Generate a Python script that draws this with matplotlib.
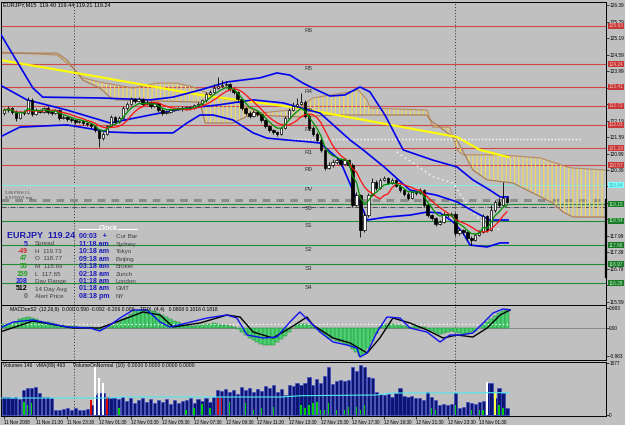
import matplotlib
matplotlib.use('Agg')
import matplotlib.pyplot as plt
import matplotlib.transforms as mtransforms
from matplotlib.lines import Line2D
import numpy as np
import pandas as pd

# ---------------- data ----------------
opens = [122.46,122.57,122.64,122.50,122.28,122.50,122.46,122.93,122.42,122.57,
122.50,122.64,122.50,122.46,122.57,122.28,122.32,122.24,122.21,122.13,
122.17,122.10,122.06,121.99,121.84,121.55,121.70,121.99,122.32,122.13,
122.28,122.64,122.79,122.97,122.90,122.97,122.79,122.86,122.72,122.82,
122.57,122.46,122.50,122.57,122.61,122.64,122.61,122.68,122.64,122.75,
122.79,122.93,123.15,123.22,123.37,123.44,123.48,123.52,123.33,123.22,
122.97,122.64,122.46,122.35,122.50,122.42,122.21,121.99,121.84,121.77,
121.70,121.92,122.28,122.57,122.72,122.79,122.86,122.35,121.92,121.70,
121.48,121.12,120.45,120.57,120.68,120.75,120.61,120.75,120.57,119.12,
119.48,118.21,118.75,119.48,119.95,119.73,120.03,120.10,119.92,120.03,
119.81,119.66,119.52,119.37,119.59,119.55,119.66,119.12,118.75,118.64,
118.42,118.50,118.79,118.75,118.79,118.10,118.21,118.14,117.92,117.84,
118.03,118.14,118.72,118.21,118.93,119.22,119.12,119.37]
closes = [122.57,122.64,122.50,122.28,122.50,122.46,122.93,122.42,122.57,122.50,
122.64,122.50,122.46,122.57,122.28,122.32,122.24,122.21,122.13,122.17,
122.10,122.06,121.99,121.84,121.55,121.70,121.99,122.32,122.13,122.28,
122.64,122.79,122.97,122.90,122.97,122.79,122.86,122.72,122.82,122.57,
122.46,122.50,122.57,122.61,122.64,122.61,122.68,122.64,122.75,122.79,
122.93,123.15,123.22,123.37,123.44,123.48,123.52,123.33,123.22,122.97,
122.64,122.46,122.35,122.50,122.42,122.21,121.99,121.84,121.77,121.70,
121.92,122.28,122.57,122.72,122.79,122.86,122.35,121.92,121.70,121.48,
121.12,120.45,120.57,120.68,120.75,120.61,120.75,120.57,119.12,119.48,
118.21,118.75,119.48,119.95,119.73,120.03,120.10,119.92,120.03,119.81,
119.66,119.52,119.37,119.59,119.55,119.66,119.12,118.75,118.64,118.42,
118.50,118.79,118.75,118.79,118.10,118.21,118.14,117.92,117.84,118.03,
118.14,118.72,118.21,118.93,119.22,119.12,119.37,119.24]
highs = [122.64,122.70,122.68,122.57,122.55,122.57,123.04,123.01,122.64,122.61,
122.68,122.70,122.57,122.61,122.61,122.39,122.35,122.30,122.26,122.22,
122.20,122.14,122.10,122.03,121.88,121.77,122.03,122.39,122.37,122.35,
122.70,122.86,123.04,123.01,123.04,123.00,122.93,122.90,122.88,122.86,
122.64,122.57,122.61,122.66,122.68,122.70,122.72,122.72,122.79,122.86,
122.97,123.22,123.30,123.52,123.77,123.66,123.62,123.55,123.40,123.26,
123.01,122.68,122.53,122.57,122.55,122.46,122.26,122.03,121.88,121.81,
121.97,122.35,122.64,122.86,123.01,123.19,122.93,122.42,121.99,121.77,
121.55,121.15,120.68,120.79,120.86,120.82,120.82,120.79,120.64,119.59,
119.52,118.86,119.55,120.10,120.03,120.10,120.17,120.14,120.10,120.07,
119.88,119.70,119.59,119.66,119.62,119.73,119.70,119.19,118.79,118.68,
118.57,118.86,118.83,118.86,118.86,118.28,118.25,118.17,117.99,118.10,
118.21,118.79,118.75,119.12,119.30,119.37,119.95,119.44]
lows = [122.39,122.50,122.42,122.17,122.24,122.39,122.42,122.35,122.39,122.46,
122.46,122.42,122.39,122.42,122.21,122.24,122.17,122.14,122.06,122.10,
122.03,121.99,121.92,121.77,121.22,121.48,121.66,121.95,122.06,122.10,
122.24,122.57,122.75,122.82,122.86,122.72,122.75,122.64,122.68,122.50,
122.39,122.42,122.46,122.53,122.57,122.55,122.57,122.59,122.61,122.70,
122.75,122.88,123.10,123.19,123.33,123.40,123.44,123.26,123.15,122.90,
122.57,122.39,122.28,122.30,122.35,122.14,121.92,121.77,121.70,121.62,
121.66,121.88,122.24,122.53,122.68,122.75,122.28,121.84,121.62,121.41,
121.04,120.39,120.42,120.50,120.61,120.53,120.57,120.50,119.04,119.08,
117.95,118.14,118.68,119.44,119.66,119.70,119.99,119.88,119.88,119.77,
119.59,119.44,119.30,119.33,119.48,119.52,119.04,118.68,118.57,118.35,
118.39,118.46,118.68,118.72,117.99,118.03,118.06,117.84,117.66,117.81,
117.99,118.10,118.14,118.17,118.86,119.04,119.08,119.19]

volumes = [373,373,352,373,331,518,559,559,580,455,
373,373,352,104,104,124,145,104,145,104,
104,124,207,414,455,455,373,352,352,331,
373,290,352,248,311,352,269,331,248,311,
269,331,228,311,248,290,311,352,248,331,
290,352,269,373,518,497,538,476,518,435,
580,518,559,476,538,497,600,559,621,476,
538,414,621,600,662,621,662,787,621,745,
662,807,994,642,704,725,704,725,994,911,
1035,994,787,766,476,435,414,435,373,455,
559,393,373,393,352,352,311,476,373,311,
207,228,207,228,455,145,166,269,248,228,
269,290,662,662,352,559,455,145]

macd_hist = [0.15,0.15,0.15,
0.2,0.3,0.35,0.38,0.35,0.3,0.25,
0.22,0.2,0.18,0.15,0.12,0.1,0.08,0.07,0.06,0.05,0.05,0.04,0.03,
-0.05,-0.08,-0.05,0.0,
0.08,0.15,0.22,0.3,0.4,0.5,0.58,0.62,0.63,0.63,0.6,0.58,0.52,0.45,0.38,0.32,0.26,0.2,0.15,0.1,
0.08,0.08,0.1,0.12,0.14,0.15,0.16,0.15,0.12,0.1,0.06,0.02,-0.05,
-0.15,-0.25,-0.35,-0.42,-0.5,-0.55,-0.6,-0.6,-0.58,-0.5,-0.4,-0.28,-0.15,
0.0,0.1,0.15,0.15,0.12,0.05,
-0.05,-0.15,-0.25,-0.35,-0.4,-0.45,-0.5,-0.55,-0.6,-0.75,-0.85,-0.98,-0.9,-0.7,-0.45,-0.2,
0.05,0.12,0.15,0.15,0.12,0.1,0.06,0.03,
0.05,0.06,0.05,0.02,
-0.08,-0.12,-0.18,-0.2,-0.18,-0.15,-0.12,-0.15,-0.18,-0.2,-0.18,-0.15,-0.1,
0.0,0.12,0.2,0.32,0.42,0.52,0.6,0.65]

macd_blue_x = [-1.0,2.3,7.3,15.9,21.7,24.2,26.8,29.3,32.6,36.1,39.4,41.9,46.2,51.3,56.3,58.8,61.4,65.4,68.9,72.2,74.7,
               77.3,79.8,83.1,86.6,89.1,89.9,91.7,94.2,96.7,100.0,102.5,106.8,110.1,112.6,115.2,118.4,121.0,123.5,126.0,127.8]
macd_blue_y = [0.0,0.21,0.28,0.035,0.0,-0.105,0.105,0.35,0.63,0.63,0.21,0.035,0.175,0.35,0.455,0.35,-0.245,-0.35,-0.315,0.21,0.56,
               0.21,-0.14,-0.49,-0.595,-0.70,-1.015,-0.875,-0.14,0.385,0.35,0.0,-0.14,-0.49,-0.245,-0.245,-0.175,0.175,0.525,0.665,0.63]
macd_black_x = [-1.0,7.3,17.4,24.2,31.1,35.1,39.4,42.7,49.5,56.3,59.6,62.9,67.9,72.2,76.5,78.0,83.1,87.4,91.7,94.9,98.2,
                102.5,106.8,110.9,114.4,118.4,122.0,125.3,127.8]
macd_black_y = [-0.14,0.245,0.0,0.0,0.35,0.56,0.455,0.035,0.175,0.455,0.385,-0.14,-0.35,0.0,0.385,0.105,-0.35,-0.525,-0.875,-0.35,0.35,
                0.175,-0.07,-0.35,-0.245,-0.315,0.0,0.455,0.63]
macd_signal_level = 0.14

upper_x = [-1.0,7.3,9.8,24.2,36.9,42.7,49.5,56.3,64.6,68.9,72.2,75.5,79.0,82.3,86.1,89.9,92.4,96.2,100.8,108.3,114.4,118.4,122.7,125.3,127.3]
upper_y = [125.37,123.37,123.04,123.01,122.94,123.04,123.30,123.59,123.74,123.92,123.84,123.55,123.30,123.08,123.12,123.41,123.23,
           122.39,121.12,120.75,120.50,120.03,119.66,119.41,119.41]
middle_x = [-1.0,5.8,15.9,26.8,36.9,46.2,53.8,62.9,70.5,79.8,87.4,90.7,96.0,102.5,109.1,114.4,118.9,122.7,127.3]
middle_y = [123.48,122.94,122.57,122.10,122.39,122.64,122.75,122.94,122.83,122.46,121.48,121.12,120.50,119.66,119.48,119.23,118.86,118.57,118.57]
lower_x = [-1.0,4.0,15.9,26.8,32.6,42.7,46.2,49.5,52.8,57.8,62.9,66.4,71.5,77.3,79.8,84.8,88.6,90.7,91.7,96.7,102.5,106.8,110.1,113.4,
           115.9,117.7,122.0,125.3,127.3]
lower_y = [121.59,121.95,122.03,121.77,121.74,121.74,122.10,122.39,122.39,122.21,121.74,121.55,121.48,121.41,121.37,120.75,119.48,118.94,
           118.57,118.68,118.75,118.86,118.83,118.50,118.10,117.66,117.59,117.74,117.74]

yellow_x = [-1.0,24.2,49.5,74.7,79.8,114.4,120.2,127.3]
yellow_y = [124.39,123.77,123.12,122.64,122.50,121.59,121.12,120.86]

spanA_x = [-1.0,13.4,17.4,19.9,24.2,32.6,38.6,43.7,47.7,51.3,53.8,57.8,64.6,72.2,74.7,78.0,85.6,89.4,91.7,92.4,106.8,108.3,112.6,
           114.4,115.9,125.3,135.4,142.2,143.7,151.8]
spanA_y = [124.68,124.57,124.10,123.74,123.59,123.37,123.55,123.55,123.41,123.19,123.01,122.94,122.46,122.57,122.68,123.01,123.19,
           123.30,122.94,122.64,122.57,121.95,121.95,121.12,120.94,120.94,120.83,120.50,120.46,120.39]
spanB_x = [-1.0,13.4,15.9,19.9,24.2,26.8,28.5,49.5,50.8,57.8,62.1,74.7,83.1,106.8,107.6,114.4,118.4,122.0,128.5,133.6,138.6,141.2,
           143.7,151.8]
spanB_y = [124.64,124.64,124.39,123.66,123.37,123.04,122.94,122.86,122.10,122.10,122.39,122.32,122.39,122.39,122.21,121.48,120.39,
           120.03,119.92,119.55,119.19,118.86,118.68,118.68]

white_x = [99.2,103.3,108.3,113.4,117.7,122.0,125.3]
white_y = [121.04,120.64,120.14,119.92,118.94,118.32,118.21]
white_level = 121.52
white_level_span = [71.5, 145.5]

level_names = ['R6','R5','R4','R3','R2','R1','R0','PV','S0','S1','S2','S3','S4']
level_prices = [125.63,124.24,123.41,122.72,122.03,121.19,120.57,119.84,119.15,118.54,117.66,116.97,116.28]
level_kinds = ['r','r','r','r','r','r','r','p','s','s','s','s','s']

price_ticks = [126.39,125.79,125.19,124.59,123.99,123.39,122.79,122.19,121.59,120.99,120.39,
               119.79,119.19,118.59,117.99,117.39,116.79,116.19,115.59]

vma_x = [-1,26,30,70,75,94,98,127.5]
vma_y = [352,352,373,373,400,414,455,463]

sig_idx = [5,6,7,22,23,24,25,26,29,46,48,50,52,54,55,57,61,63,65,68,75,76,77,78,79,80,81,82,84,86,87,89,90,91,108,109,114,118,120,121,122,124,125,126]
sig_val = [270,207,248,311,994,766,662,373,145,104,145,228,145,352,352,269,248,104,145,166,207,145,207,248,269,104,104,248,104,104,166,166,104,207,145,104,207,104,104,104,683,455,207,145]
sig_col = ['g','g','g','r','w','w','w','r','g','g','g','g','g','r','r','g','g','g','g','g','g','g','g','g','g','g','g','g','g','g','g','g','g','g','g','g','g','g','g','g','w','y','g','g']

time_ticks = list(range(0, 121, 8))
time_labels = ['11 Nov 2008','11 Nov 21:30','11 Nov 23:30','12 Nov 01:30','12 Nov 03:30','12 Nov 05:30','12 Nov 07:30',
               '12 Nov 09:30','12 Nov 11:30','12 Nov 13:30','12 Nov 15:30','12 Nov 17:30','12 Nov 19:30','12 Nov 21:30',
               '12 Nov 23:30','13 Nov 01:30']
day_separators = [17.6, 114.0]

info_values = ['5','-49','47','55','159','208','512','0']
info_value_colors = ['#1a1ad0','#d02828','#20a020','#20a020','#20a020','#1a1ad0','#000000','#606060']
info_labels = ['Spread','H  119.73','O  118.77','M  118.69','L  117.65','Day Range','14 Day Avg','Alert Price']
clock_times = ['00:03   +','11:18 am','10:18 am','09:18 am','03:18 am','02:18 am','01:18 am','01:18 am','08:18 pm']
clock_cities = ['Cur Bar','Sydney','Tokyo','Beijing','Broker','Zurich','London','GMT','NY']

# ---------------- drawing ----------------
W, H = 625, 425
BG = '#c0c0c0'
plt.rcParams['font.family'] = ['Liberation Sans', 'DejaVu Sans']
plt.rcParams['hatch.linewidth'] = 0.8
AXFS = 3.4
P_PER_PX = 1 / 27.5

def fx(x): return x / W
def fy(y): return 1 - y / H

fig = plt.figure(figsize=(6.25, 4.25), dpi=100, facecolor=BG)
ax = fig.add_axes([fx(1), fy(305), 605 / W, 303 / H])
axm = fig.add_axes([fx(1), fy(360), 605 / W, 55 / H])
axv = fig.add_axes([fx(1), fy(416), 605 / W, 54 / H])

XL = (-0.76, 152.02)
for a in (ax, axm, axv):
    a.set_facecolor(BG)
    a.set_xlim(*XL)
    for s in a.spines.values():
        s.set_color('black'); s.set_linewidth(0.7)
    a.yaxis.tick_right()
    a.tick_params(axis='y', direction='out', length=1.8, width=0.5, labelsize=AXFS, pad=0.6, colors='black')
    for d in day_separators:
        a.axvline(d, color='#303030', lw=0.7, ls=(0, (1, 2)), zorder=1)

o = np.array(opens); c = np.array(closes); hi = np.array(highs); lo = np.array(lows)
idx = np.arange(len(c))

# main panel
ax.set_ylim(115.48, 126.50)
ax.set_xticks([])
ax.set_yticks(price_ticks)
shown = []
for p in price_ticks:
    near = min(abs(p - q) for q in level_prices)
    shown.append('' if near < 4 * P_PER_PX else '%.2f' % p)
ax.set_yticklabels(shown)

lvl_colors = {'r': '#d04848', 'p': '#88e8e8', 's': '#208a34'}
box_colors = {'r': '#c83838', 'p': '#80ffff', 's': '#1a7a2a'}
txt_colors = {'r': '#f4c0c0', 'p': '#40a8a8', 's': '#b8f0b8'}
blend = mtransforms.blended_transform_factory(ax.transAxes, ax.transData)
for name, p, k in zip(level_names, level_prices, level_kinds):
    ax.axhline(p, color=lvl_colors[k], lw=0.8, zorder=1.2)
    ax.annotate(name, (76, p), xytext=(0, -1.5), textcoords='offset points', va='top', ha='left',
                fontsize=4.5, color='#303030', zorder=3)
    ax.text(1.004, p, '%.2f' % p, transform=blend, fontsize=AXFS, va='center', ha='left', color=txt_colors[k],
            bbox=dict(boxstyle='square,pad=0.15', fc=box_colors[k], ec='none'), clip_on=False, zorder=10)

ax.axhline(119.30, color='#8c8c8c', lw=2.2, ls=(0, (2.5, 2)), zorder=1.1)
ax.axhline(119.04, color='#404040', lw=0.6, ls='-.', zorder=1.1)
fig.text(fx(5), fy(193), '2.86 PIVH 1 L', fontsize=3, color='#404040', va='center')
fig.text(fx(5), fy(198), 'S 0 PIVOT avg', fontsize=3, color='#404040', va='center')

# ichimoku cloud
ax.fill(np.r_[spanA_x, spanB_x[::-1]], np.r_[spanA_y, spanB_y[::-1]], facecolor='none',
        edgecolor='#f4dc58', hatch='||||', lw=0, zorder=1.5)
ax.plot(spanA_x, spanA_y, color='#b88a60', lw=0.8, zorder=1.6)
ax.plot(spanB_x, spanB_y, color='#a87850', lw=0.8, zorder=1.6)

ax.plot(yellow_x, yellow_y, color='#ffff00', lw=1.5, zorder=2)
ax.plot(white_x, white_y, color='white', lw=1.0, ls=(0, (1, 2.5)), zorder=2)
ax.plot(white_level_span, [white_level, white_level], color='white', lw=1.0, ls=(0, (1, 1.5)), zorder=2)

for bx, by in ((upper_x, upper_y), (middle_x, middle_y), (lower_x, lower_y)):
    ax.plot(bx, by, color='#0000f0', lw=1.2, zorder=3)

ax.vlines(idx, lo, hi, color='black', lw=0.6, zorder=5)
up = c >= o
ax.bar(idx[up], (c - o)[up], bottom=o[up], width=0.62, color='white', edgecolor='black', lw=0.5, zorder=6)
ax.bar(idx[~up], (c - o)[~up], bottom=o[~up], width=0.62, color='black', edgecolor='black', lw=0.5, zorder=6)

cs = pd.Series(c)
ax.plot(idx, cs.rolling(8, min_periods=1).mean(), color='#ff1010', lw=0.9, zorder=7)
ax.plot(idx, cs.ewm(span=5, adjust=False).mean(), color='#009000', lw=0.9, zorder=7)

ax.plot([1.0, 1.0], [119.30, 116.50], transform=blend, color='black', lw=1.6, clip_on=False, zorder=9)

fig.text(fx(3), fy(4.5), 'EURJPY,M15  119.40 119.44 119.21 119.24', fontsize=4, va='center', color='black')

# info panel
fig.text(fx(7), fy(236), 'EURJPY  119.24', fontsize=6.5, fontweight='bold', color='#1a1ab0', va='center')
row_y = [244, 251.5, 259, 266.5, 274, 281.5, 289, 296.5]
for yy, v, vc, lab in zip(row_y, info_values, info_value_colors, info_labels):
    fig.text(fx(28), fy(yy), v, fontsize=5, fontweight='bold', color=vc, ha='right', va='center')
    fig.text(fx(35), fy(yy), lab, fontsize=4.5, color='#404040', ha='left', va='center')
clock_y = [237, 244.5, 252, 259.5, 267, 274, 281.5, 289, 296.5]
for yy, t, city in zip(clock_y, clock_times, clock_cities):
    fig.text(fx(79), fy(yy), t, fontsize=5, fontweight='bold', color='#1a1ab8', ha='left', va='center')
    fig.text(fx(116), fy(yy), city, fontsize=4.5, color='#404040', ha='left', va='center')
fig.text(fx(108.5), fy(229), 'Clock', fontsize=5, fontweight='bold', color='white', ha='center', va='center')
fig.add_artist(Line2D([fx(79), fx(99)], [fy(229), fy(229)], color='white', lw=0.8))
fig.add_artist(Line2D([fx(118), fx(137)], [fy(229), fy(229)], color='white', lw=0.8))

# MACD panel
axm.set_ylim(-1.12, 0.805)
axm.set_xticks([])
axm.bar(idx, macd_hist, width=1.0, color='#4cd070', edgecolor='#1f8a3c', lw=0.35, zorder=2)
axm.axhline(0, color='#808080', lw=0.6, zorder=1.5)
axm.plot([-1, 127.5], [macd_signal_level] * 2, color='white', lw=0.9, ls=(0, (1, 2)), zorder=3)
axm.plot(macd_black_x, macd_black_y, color='black', lw=1.0, zorder=4)
axm.plot(macd_blue_x, macd_blue_y, color='#1010f0', lw=1.0, zorder=4)
axm.set_yticks([0.683, 0.0, -0.983])
axm.set_yticklabels(['0.683', '0.00', '-0.983'])
fig.text(fx(10), fy(310), 'MACDonS2  (12,26,9)  0.000 0.590 -0.092 -0.206 0.000', fontsize=3.6, va='center')
fig.text(fx(140), fy(310), 'TRIX  (4,4)   0.0808 0.1016 0.1818', fontsize=3.6, va='center')

# Volume panel
axv.set_ylim(-20, 1097)
axv.bar(idx, volumes, width=0.8, color='#0c1670', edgecolor='#3444d0', lw=0.4, zorder=2)
sc = {'g': '#00d000', 'r': '#e00000', 'w': '#ffffff', 'y': '#ffff40'}
axv.bar(sig_idx, sig_val, width=0.35, color=[sc[k] for k in sig_col], lw=0, zorder=3)
axv.plot(vma_x, vma_y, color='#50e8f0', lw=0.8, zorder=4)
axv.set_yticks([1077, 0])
axv.set_yticklabels(['1077', '0'])
axv.set_xticks(time_ticks)
axv.set_xticklabels(time_labels)
axv.tick_params(axis='x', direction='out', length=1.8, width=0.5, labelsize=3.3, pad=0.8)
for lab in axv.get_xticklabels():
    lab.set_ha('left')
fig.text(fx(3), fy(366), 'Volumes 146   vMA(89) 463', fontsize=3.6, va='center')
fig.text(fx(73), fy(366), 'VolumeOnNormal  (10)  0.0000 0.0000 0.0000 0.0000', fontsize=3.6, va='center')

fig.savefig('out.png', dpi=100, facecolor=BG)
